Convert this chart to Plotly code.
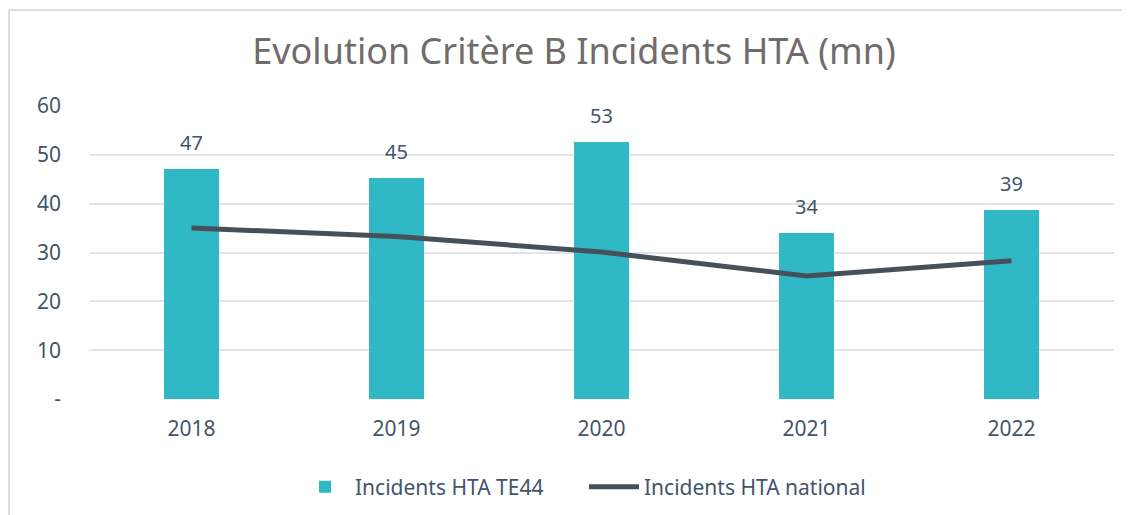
import plotly.graph_objects as go

years = ["2018", "2019", "2020", "2021", "2022"]
te44 = [47.1, 45.2, 52.6, 33.9, 38.8]
te44_labels = ["47", "45", "53", "34", "39"]
national = [35.0, 33.3, 30.1, 25.2, 28.3]
y_ticks = [0, 10, 20, 30, 40, 50, 60]
y_tick_labels = ["-", "10", "20", "30", "40", "50", "60"]

# page body has an 8px margin: lay out in reference pixels minus 8
OFF = 8
W, H = 1130 - OFF, 515 - OFF
L, R, T, B = 89 - OFF, 16, 106 - OFF, 116
pw, ph = W - L - R, H - T - B

FONT = "Noto Sans"
TXT = "#44546A"

fig = go.Figure()
fig.add_trace(go.Bar(
    x=years, y=te44, name="Incidents HTA TE44",
    marker=dict(color="#31B8C6", line=dict(width=0)),
    width=0.273,
))
fig.add_trace(go.Scatter(
    x=years, y=national, name="Incidents HTA national",
    mode="lines", line=dict(color="#46505A", width=5),
))

for i, (v, lab) in enumerate(zip(te44, te44_labels)):
    fig.add_annotation(x=i, y=v, text=lab, showarrow=False,
                       xref="x", yref="y",
                       yanchor="bottom", yshift=11,
                       font=dict(family=FONT, size=20, color=TXT))

def px_x(x):
    return (x - OFF - L) / pw

def px_y(y):
    return (H - B - (y - OFF)) / ph

# frame lines (left and top)
fig.add_shape(type="line", xref="paper", yref="paper",
              x0=px_x(9), x1=px_x(9), y0=px_y(10), y1=px_y(530),
              line=dict(color="#DADDE3", width=2))
fig.add_shape(type="line", xref="paper", yref="paper",
              x0=px_x(9), x1=px_x(1140), y0=px_y(10), y1=px_y(10),
              line=dict(color="#DADDE3", width=2))

fig.update_layout(
    width=W, height=H,
    margin=dict(l=L, r=R, t=T, b=B, pad=0),
    paper_bgcolor="white", plot_bgcolor="white",
    title=dict(text="Evolution Critère B Incidents HTA (mn)",
               x=(574 - OFF) / W, xref="container", xanchor="center",
               y=1 - (51 - OFF) / H, yanchor="middle",
               font=dict(family=FONT, size=36, color="#706C6C")),
    showlegend=True,
    legend=dict(orientation="h",
                x=(295 - OFF) / W, xref="container", xanchor="left",
                y=(H - (487 - OFF)) / H, yref="container", yanchor="middle",
                font=dict(family=FONT, size=21, color=TXT),
                itemwidth=50, entrywidth=224, entrywidthmode="pixels",
                traceorder="normal"),
    xaxis=dict(type="category", range=[-0.5, len(years) - 0.5],
               showgrid=False, showline=False, zeroline=False,
               tickfont=dict(family=FONT, size=21, color=TXT),
               ticks="", ticklabelstandoff=15),
    yaxis=dict(range=[0, 60], tickvals=y_ticks, ticktext=y_tick_labels,
               showgrid=True, gridcolor="#E1E4EA", gridwidth=1.5,
               zeroline=False, showline=False, ticks="",
               tickfont=dict(family=FONT, size=21, color=TXT),
               ticklabelstandoff=27),
    bargap=0,
)

fig.write_html("out.html")
